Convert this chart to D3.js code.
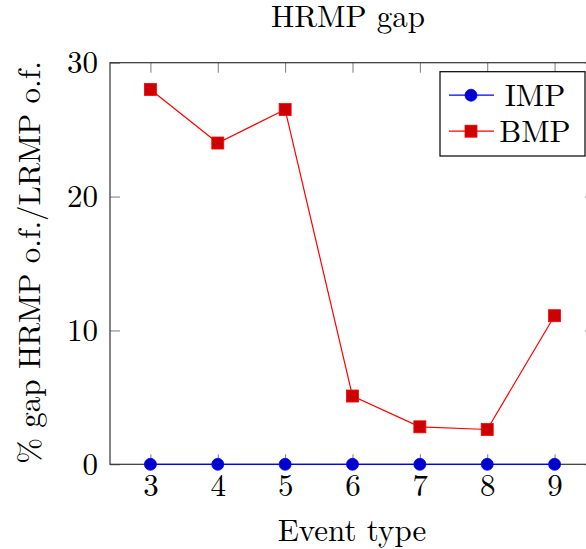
<!DOCTYPE html>
<html>
<head>
<meta charset="utf-8">
<script src="https://cdn.jsdelivr.net/npm/d3@7"></script>
<style>
  body { margin: 0; background: #fff; }
  svg { display: block; }
</style>
</head>
<body>
<svg id="chart"></svg>
<script>
// data
let eventTypes = [3, 4, 5, 6, 7, 8, 9];
let impGap = [0, 0, 0, 0, 0, 0, 0];
let bmpGap = [28.0, 24.0, 26.5, 5.1, 2.8, 2.6, 11.1];
let xTicks = [3, 4, 5, 6, 7, 8, 9];
let yTicks = [0, 10, 20, 30];
let seriesNames = ["IMP", "BMP"];

let chartTitle = "HRMP gap",
  xTitle = "Event type",
  yTitle = "% gap HRMP o.f./LRMP o.f.";

let W = 586,
  H = 549;
let margin = { top: 62.7, right: -9, bottom: 84.7, left: 110 },
  width = W - margin.left - margin.right,
  height = H - margin.top - margin.bottom;

let fontSize = 31;
let serif = "'Latin Modern Roman'";

let svg = d3
  .select("#chart")
  .attr("width", W)
  .attr("height", H)
  .attr("font-family", serif);
let g = svg
  .append("g")
  .attr("transform", "translate(" + margin.left + "," + margin.top + ")");

var x = d3.scaleLinear().domain([2.4, 9.6]).range([0, width]);
var y = d3.scaleLinear().domain([0, 30]).range([height, 0]);

// ticks (pointing inwards, pgfplots style)
function styleAxis(sel) {
  sel.attr("font-family", serif).attr("font-size", fontSize);
  sel.select(".domain").remove();
  sel.selectAll(".tick line").attr("stroke", "#7a7a7a").attr("stroke-width", 1);
  sel.selectAll(".tick text").attr("fill", "#000");
}

g.append("g")
  .attr("transform", "translate(0," + height + ")")
  .call(d3.axisBottom(x).tickValues(xTicks).tickSize(-10).tickPadding(10))
  .call(styleAxis);
g.append("g")
  .call(d3.axisTop(x).tickValues(xTicks).tickSize(-10).tickFormat(""))
  .call(styleAxis);
g.append("g")
  .call(d3.axisLeft(y).tickValues(yTicks).tickSize(-10).tickPadding(12))
  .call(styleAxis);
g.append("g")
  .attr("transform", "translate(" + width + ",0)")
  .call(d3.axisRight(y).tickValues(yTicks).tickSize(-10).tickFormat(""))
  .call(styleAxis);

// axis box
g.append("rect")
  .attr("x", 0)
  .attr("y", 0)
  .attr("width", width)
  .attr("height", height)
  .attr("fill", "none")
  .attr("stroke", "#333")
  .attr("stroke-width", 1.2);

var line = d3
  .line()
  .x(function (d, i) {
    return x(eventTypes[i]);
  })
  .y(function (d) {
    return y(d);
  });

// IMP series
g.append("path")
  .datum(impGap)
  .attr("fill", "none")
  .attr("stroke", "#0000ff")
  .attr("stroke-width", 1.2)
  .attr("d", line);
g.selectAll(".imp")
  .data(impGap)
  .enter()
  .append("circle")
  .attr("class", "imp")
  .attr("cx", (d, i) => x(eventTypes[i]))
  .attr("cy", (d) => y(d))
  .attr("r", 6)
  .attr("fill", "#0000cc")
  .attr("stroke", "#0000ff")
  .attr("stroke-width", 0.8);

// BMP series
g.append("path")
  .datum(bmpGap)
  .attr("fill", "none")
  .attr("stroke", "#ff0000")
  .attr("stroke-width", 1.2)
  .attr("d", line);
g.selectAll(".bmp")
  .data(bmpGap)
  .enter()
  .append("rect")
  .attr("class", "bmp")
  .attr("x", (d, i) => x(eventTypes[i]) - 6)
  .attr("y", (d) => y(d) - 6)
  .attr("width", 12)
  .attr("height", 12)
  .attr("fill", "#cc0000")
  .attr("stroke", "#ff0000")
  .attr("stroke-width", 0.8);

// legend
var legend = svg.append("g").attr("transform", "translate(440,71.7)");
legend
  .append("rect")
  .attr("width", 145)
  .attr("height", 84.3)
  .attr("fill", "#fff")
  .attr("stroke", "#000")
  .attr("stroke-width", 1.2);

var legRows = [
  { name: seriesNames[0], color: "#0000ff", fill: "#0000cc", mark: "circle", ty: 23.5 },
  { name: seriesNames[1], color: "#ff0000", fill: "#cc0000", mark: "square", ty: 59.5 },
];
legRows.forEach(function (r) {
  legend
    .append("line")
    .attr("x1", 9)
    .attr("x2", 54)
    .attr("y1", r.ty)
    .attr("y2", r.ty)
    .attr("stroke", r.color)
    .attr("stroke-width", 1.2);
  if (r.mark === "circle") {
    legend
      .append("circle")
      .attr("cx", 31)
      .attr("cy", r.ty)
      .attr("r", 6)
      .attr("fill", r.fill)
      .attr("stroke", r.color)
      .attr("stroke-width", 0.8);
  } else {
    legend
      .append("rect")
      .attr("x", 25)
      .attr("y", r.ty - 6)
      .attr("width", 12)
      .attr("height", 12)
      .attr("fill", r.fill)
      .attr("stroke", r.color)
      .attr("stroke-width", 0.8);
  }
  legend
    .append("text")
    .attr("x", 95)
    .attr("y", r.ty + 10.5)
    .attr("font-size", fontSize)
    .attr("text-anchor", "middle")
    .text(r.name);
});

// titles
svg
  .append("text")
  .attr("x", 348)
  .attr("y", 27)
  .attr("font-size", fontSize)
  .attr("text-anchor", "middle")
  .text(chartTitle);

svg
  .append("text")
  .attr("x", 352)
  .attr("y", 541)
  .attr("font-size", fontSize)
  .attr("text-anchor", "middle")
  .text(xTitle);

svg
  .append("text")
  .attr("transform", "translate(40,262.5) rotate(-90)")
  .attr("font-size", fontSize)
  .attr("text-anchor", "middle")
  .text(yTitle);
</script>
</body>
</html>
